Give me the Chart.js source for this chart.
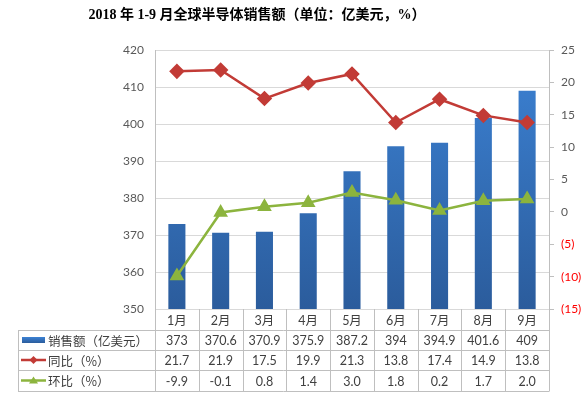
<!DOCTYPE html>
<html>
<head>
<meta charset="utf-8">
<script src="https://cdn.jsdelivr.net/npm/chart.js@4/dist/chart.umd.min.js"></script>
<style>
html,body{margin:0;padding:0;background:#fff;}
#wrap{width:588px;height:398px;position:relative;}
</style>
</head>
<body>
<div id="wrap"><canvas id="c" width="588" height="398"></canvas></div>
<script>
const titleText = '2018 年 1-9 月全球半导体销售额（单位：亿美元，%）';
const months = ['1月','2月','3月','4月','5月','6月','7月','8月','9月'];
const sales = [373, 370.6, 370.9, 375.9, 387.2, 394, 394.9, 401.6, 409];
const yoy = [21.7, 21.9, 17.5, 19.9, 21.3, 13.8, 17.4, 14.9, 13.8];
const mom = [-9.9, -0.1, 0.8, 1.4, 3.0, 1.8, 0.2, 1.7, 2.0];
const salesLabels = ['373','370.6','370.9','375.9','387.2','394','394.9','401.6','409'];
const yoyLabels = ['21.7','21.9','17.5','19.9','21.3','13.8','17.4','14.9','13.8'];
const momLabels = ['-9.9','-0.1','0.8','1.4','3.0','1.8','0.2','1.7','2.0'];
const seriesNames = ['销售额（亿美元）','同比（%）','环比（%）'];

const BLUE = '#2f69b3', RED = '#c23b36', GREEN = '#8cb43e', GRID = '#d9d9d9', TXT = '#404040';
const NUMFONT = "Lato, 'Noto Sans CJK SC', sans-serif";
const CJKFONT = "'Noto Sans CJK SC', sans-serif";

function barGrad(ctx){
  const ch = ctx.chart; const a = ch.chartArea;
  if(!a) return BLUE;
  const g = ch.ctx.createLinearGradient(0, a.top, 0, a.bottom);
  g.addColorStop(0, '#3c82d4');
  g.addColorStop(1, '#2b5c9c');
  return g;
}

const tablePlugin = {
  id:'tablePlugin',
  afterDraw(chart){
    const c = chart.ctx, x = chart.scales.x, a = chart.chartArea;
    const n = months.length;
    const step = (a.right - a.left)/n;
    const L = 18, rows = [a.bottom, 330, 350, 370, 391];
    c.save();
    // title
    c.fillStyle = '#000';
    c.font = "bold 14px 'Liberation Serif', 'Noto Sans CJK SC', serif";
    c.textAlign = 'center'; c.textBaseline = 'middle';
    c.fillText(titleText, 257, 15);
    // grid lines
    c.strokeStyle = '#bfbfbf'; c.lineWidth = 1;
    c.beginPath();
    for(let r=1;r<rows.length;r++){
      const y = Math.round(rows[r])+0.5;
      c.moveTo(L, y); c.lineTo(a.right, y);
    }
    c.moveTo(L+0.5, rows[1]); c.lineTo(L+0.5, rows[4]+0.5);
    for(let i=0;i<=n;i++){
      const xx = Math.round(a.left + i*step)+0.5;
      c.moveTo(xx, a.bottom); c.lineTo(xx, rows[4]+0.5);
    }
    c.stroke();
    // text
    const cy = [(rows[0]+rows[1])/2, (rows[1]+rows[2])/2, (rows[2]+rows[3])/2, (rows[3]+rows[4])/2];
    c.fillStyle = TXT; c.textAlign='center'; c.textBaseline='middle';
    const rowsData = [months, salesLabels, yoyLabels, momLabels];
    for(let i=0;i<n;i++){
      const xx = x.getPixelForValue(i);
      c.font = "12.5px " + NUMFONT;
      c.fillText(rowsData[0][i], xx, cy[0]+1);
      for(let r=1;r<4;r++) c.fillText(rowsData[r][i], xx, cy[r]+1);
    }
    // legend keys
    c.textAlign='left';
    c.font = "12.5px " + CJKFONT;
    for(let r=1;r<4;r++) c.fillText(seriesNames[r-1], 48, cy[r]+1);
    // bar key
    const g = c.createLinearGradient(0, cy[1]-3, 0, cy[1]+3);
    g.addColorStop(0,'#3c82d4'); g.addColorStop(1,'#2b5c9c');
    c.fillStyle = g; c.fillRect(22, cy[1]-3, 23, 6);
    // red key
    c.strokeStyle = RED; c.lineWidth = 2.5;
    c.beginPath(); c.moveTo(21, cy[2]); c.lineTo(46, cy[2]); c.stroke();
    c.fillStyle = RED;
    c.beginPath(); c.moveTo(33.5, cy[2]-4); c.lineTo(37.5, cy[2]); c.lineTo(33.5, cy[2]+4); c.lineTo(29.5, cy[2]); c.closePath(); c.fill();
    // green key
    c.strokeStyle = GREEN;
    c.beginPath(); c.moveTo(21, cy[3]); c.lineTo(46, cy[3]); c.stroke();
    c.fillStyle = GREEN;
    c.beginPath(); c.moveTo(33.5, cy[3]-4); c.lineTo(38, cy[3]+3); c.lineTo(29, cy[3]+3); c.closePath(); c.fill();
    c.restore();
  }
};

new Chart(document.getElementById('c'), {
  data:{
    labels: months,
    datasets:[
      {type:'line', label:seriesNames[1], data:yoy, yAxisID:'y2', borderColor:RED, backgroundColor:RED,
       borderWidth:2.5, pointStyle:'rectRot', pointRadius:6, pointBackgroundColor:RED, pointBorderColor:RED, tension:0, order:1},
      {type:'line', label:seriesNames[2], data:mom, yAxisID:'y2', borderColor:GREEN, backgroundColor:GREEN,
       borderWidth:2.5, pointStyle:'triangle', pointRadius:6, pointBackgroundColor:GREEN, pointBorderColor:GREEN, tension:0, order:2},
      {type:'bar', label:seriesNames[0], data:sales, yAxisID:'y', backgroundColor:barGrad,
       barPercentage:0.39, categoryPercentage:1, order:3}
    ]
  },
  options:{
    responsive:false, animation:false,
    layout:{padding:{top:50, bottom:89, left:0, right:0}},
    plugins:{legend:{display:false}, title:{display:false}, tooltip:{enabled:false}},
    scales:{
      x:{display:false, offset:true},
      y:{position:'left', min:350, max:420,
         ticks:{stepSize:10, color:'#595959', font:{size:12, family:NUMFONT}, padding:11},
         grid:{color:GRID, drawTicks:false},
         border:{display:true, color:'#bfbfbf'},
         afterFit(s){ s.width = 155; }},
      y2:{position:'right', min:-15, max:25,
         ticks:{stepSize:5, font:{size:12, family:NUMFONT}, padding:7,
                color:(ctx)=> ctx.tick && ctx.tick.value < 0 ? '#ff0000' : '#595959',
                callback:(v)=> v < 0 ? '(' + (-v) + ')' : String(v)},
         grid:{drawOnChartArea:false, color:'#bfbfbf', tickLength:5},
         border:{display:true, color:'#bfbfbf'},
         afterFit(s){ s.width = 39; }}
    }
  },
  plugins:[tablePlugin]
});
</script>
</body>
</html>
